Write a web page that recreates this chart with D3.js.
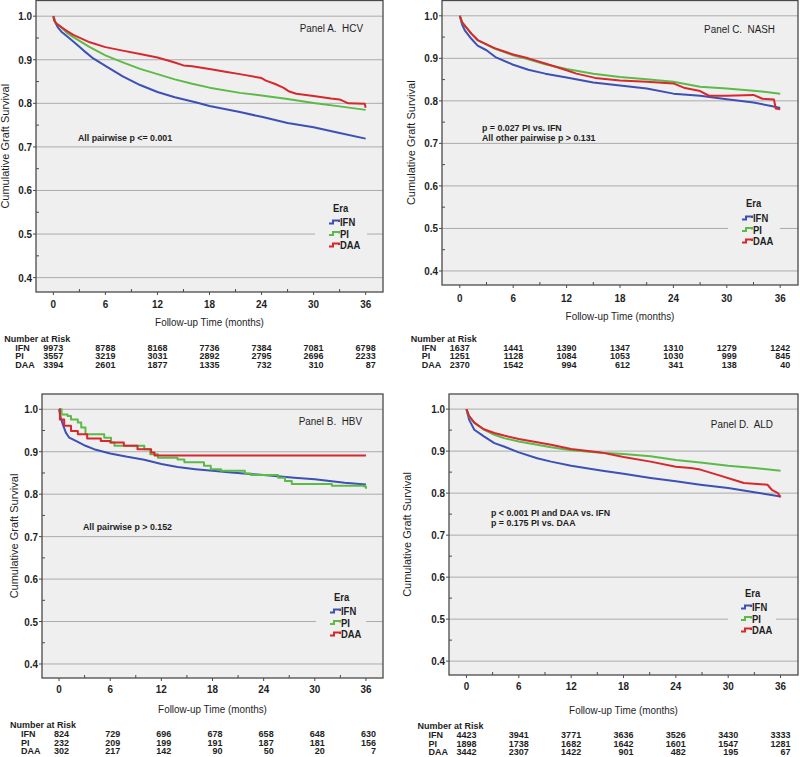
<!DOCTYPE html>
<meta charset="utf-8">
<style>
body { margin: 0; background: #fff; }
svg text { font-family: "Liberation Sans", Arial, sans-serif; fill: #1e1e1e; white-space: pre; }
</style>
<body>
<script src="https://cdn.jsdelivr.net/npm/d3@7/dist/d3.min.js"></script>
<script>

// ---- data ----
var eras = ["IFN", "PI", "DAA"];
var eraColors = ["#3d50b6", "#5cbb48", "#d8272d"];
var xTicks = [0, 6, 12, 18, 24, 30, 36];
var xMinor = [3, 9, 15, 21, 27, 33];
var yTicks = [0.4, 0.5, 0.6, 0.7, 0.8, 0.9, 1.0];

// Panel A. HCV  [month, survival]
var hcvIFN = [[0,1],[0.25,0.985],[0.5,0.975],[1,0.963],[1.5,0.955],[2.3,0.942],[3.5,0.921],[4.6,0.903],[6,0.886],[8,0.862],[10,0.842],[12,0.826],[14,0.814],[16.5,0.802],[18,0.794],[21.5,0.78],[24,0.769],[27,0.755],[30,0.745],[33,0.732],[36,0.719]];
var hcvPI = [[0,1],[0.25,0.985],[0.75,0.978],[1.5,0.963],[2.3,0.952],[4.2,0.929],[6,0.91],[8,0.894],[10,0.879],[12,0.867],[14,0.855],[16,0.845],[18,0.836],[21.5,0.824],[24,0.818],[27,0.81],[30,0.801],[33,0.793],[36,0.785]];
var hcvDAA = [[0,1],[0.1,0.99],[0.4,0.982],[1.5,0.967],[2.3,0.957],[4.2,0.94],[6,0.929],[8,0.921],[10,0.913],[12,0.905],[13.8,0.895],[15,0.887],[16,0.885],[18,0.879],[20,0.872],[21.5,0.867],[24,0.858],[24.5,0.852],[25.5,0.845],[26.5,0.836],[27.2,0.827],[28,0.822],[30,0.817],[32,0.811],[33,0.809],[34,0.8],[35.9,0.799],[36,0.79]];

// Panel B. HBV
var hbvIFN = [[0,1],[0.2,0.98],[0.5,0.961],[0.8,0.945],[1.2,0.933],[2.2,0.923],[3.1,0.914],[4.1,0.906],[6,0.896],[8,0.888],[10,0.881],[12,0.871],[13.9,0.864],[16,0.859],[18,0.855],[20.2,0.851],[24,0.845],[27.6,0.839],[30,0.835],[33.5,0.827],[36,0.823]];
var hbvPI = [[0,1],[0.3,0.988],[1,0.984],[1.4,0.976],[2.2,0.969],[2.6,0.957],[3.1,0.941],[5.3,0.933],[6.1,0.922],[6.5,0.914],[10,0.906],[10.7,0.894],[11.6,0.886],[13.9,0.882],[14.7,0.875],[17,0.867],[17.8,0.859],[19,0.855],[21.8,0.849],[22.5,0.845],[25.7,0.839],[26.5,0.831],[27.3,0.824],[32,0.82],[35.8,0.818],[36,0.813]];
var hbvDAA = [[0,1],[0.1,0.976],[0.6,0.961],[1.4,0.949],[2.2,0.941],[3.3,0.931],[4.9,0.925],[6,0.922],[7.6,0.914],[9.2,0.906],[10.8,0.898],[11.2,0.891],[36,0.891]];

// Panel C. NASH
var nashIFN = [[0,1],[0.25,0.98],[0.56,0.966],[1.3,0.946],[2,0.93],[3,0.919],[4,0.903],[6,0.885],[7.7,0.873],[9.6,0.864],[12,0.855],[15,0.843],[18,0.836],[21,0.829],[24,0.817],[27,0.812],[30,0.804],[33,0.796],[35,0.788],[36,0.783]];
var nashPI = [[0,1],[0.25,0.985],[0.56,0.977],[1.3,0.958],[2,0.943],[3.9,0.923],[6,0.907],[7.7,0.898],[9.6,0.886],[12,0.875],[15,0.864],[18,0.856],[21,0.851],[24,0.845],[27,0.833],[30,0.829],[33,0.824],[36,0.817]];
var nashDAA = [[0,1],[0.25,0.985],[0.56,0.977],[1.3,0.958],[2,0.943],[3.9,0.924],[6,0.909],[7.7,0.9],[9.6,0.888],[12,0.872],[13.1,0.864],[15.2,0.854],[18,0.848],[21,0.845],[24,0.841],[25.3,0.83],[27,0.823],[28,0.812],[30,0.812],[33,0.814],[34,0.805],[35.3,0.803],[35.5,0.782],[36,0.78]];

// Panel D. ALD
var aldIFN = [[0,1],[0.3,0.975],[0.9,0.951],[2,0.935],[3.2,0.919],[4.3,0.911],[6,0.897],[8.1,0.883],[9.7,0.875],[12,0.865],[15.4,0.854],[18,0.846],[21.1,0.836],[24,0.828],[26.8,0.82],[30,0.812],[33,0.802],[36,0.792]];
var aldPI = [[0,1],[0.3,0.983],[0.9,0.967],[2,0.951],[3.2,0.939],[4.3,0.931],[6,0.923],[8.1,0.915],[9.7,0.909],[12,0.902],[15.4,0.896],[18,0.893],[21.1,0.888],[24,0.879],[26.8,0.873],[30,0.865],[33,0.86],[36,0.853]];
var aldDAA = [[0,1],[0.3,0.984],[0.9,0.968],[2,0.952],[3.2,0.943],[4.3,0.937],[6,0.929],[8.1,0.921],[9.7,0.915],[12,0.905],[15.4,0.897],[18,0.886],[21.1,0.875],[24,0.863],[25.7,0.86],[26.8,0.856],[28.7,0.844],[30.6,0.832],[31.8,0.824],[34.5,0.82],[35,0.808],[35.7,0.8],[36,0.79]];

// numbers at risk (at 0, 6, ... 36 months)
var hcvRiskIFN = [9973, 8788, 8168, 7736, 7384, 7081, 6798];
var hcvRiskPI = [3557, 3219, 3031, 2892, 2795, 2696, 2233];
var hcvRiskDAA = [3394, 2601, 1877, 1335, 732, 310, 87];
var hbvRiskIFN = [824, 729, 696, 678, 658, 648, 630];
var hbvRiskPI = [232, 209, 199, 191, 187, 181, 156];
var hbvRiskDAA = [302, 217, 142, 90, 50, 20, 7];
var nashRiskIFN = [1637, 1441, 1390, 1347, 1310, 1279, 1242];
var nashRiskPI = [1251, 1128, 1084, 1053, 1030, 999, 845];
var nashRiskDAA = [2370, 1542, 994, 612, 341, 138, 40];
var aldRiskIFN = [4423, 3941, 3771, 3636, 3526, 3430, 3333];
var aldRiskPI = [1898, 1738, 1682, 1642, 1601, 1547, 1281];
var aldRiskDAA = [3442, 2307, 1422, 901, 482, 195, 67];

var panels = [
  {title: "Panel A.  HCV", note: ["All pairwise p <= 0.001"],
   curves: [hcvIFN, hcvPI, hcvDAA], steps: [false, false, false],
   risk: [hcvRiskIFN, hcvRiskPI, hcvRiskDAA]},
  {title: "Panel C.  NASH", note: ["p = 0.027 PI vs. IFN", "All other pairwise p > 0.131"],
   curves: [nashIFN, nashPI, nashDAA], steps: [false, false, false],
   risk: [nashRiskIFN, nashRiskPI, nashRiskDAA]},
  {title: "Panel B.  HBV", note: ["All pairwise p > 0.152"],
   curves: [hbvIFN, hbvPI, hbvDAA], steps: [false, true, true],
   risk: [hbvRiskIFN, hbvRiskPI, hbvRiskDAA]},
  {title: "Panel D.  ALD", note: ["p < 0.001 PI and DAA vs. IFN", "p = 0.175 PI vs. DAA"],
   curves: [aldIFN, aldPI, aldDAA], steps: [false, false, false],
   risk: [aldRiskIFN, aldRiskPI, aldRiskDAA]}
];

// ---- layout ----
var layout = [
  {box: [36, 0.5, 383, 292], tickY: 308, titleY: 326, yTitleX: 9, riskY: [342, 350.5, 359, 367.5],
   label: [363, 32], note: [78, 141], legend: [329, 212, [226, 237.5, 249]], legendBg: [315, 199, 52, 56]},
  {box: [442, 0.5, 798, 285], tickY: 302, titleY: 320, yTitleX: 415, riskY: [342, 350.5, 359, 367.5],
   label: [775, 33], note: [482, 130.5], legend: [742, 207, [222, 233.5, 245]], legendBg: [728, 195, 52, 56]},
  {box: [42, 394, 383, 678], tickY: 693, titleY: 713, yTitleX: 18, riskY: [728, 737, 745.5, 754],
   label: [362, 425], note: [83, 530], legend: [330, 601, [615, 626.5, 638]], legendBg: [316, 589, 50, 55]},
  {box: [449, 394, 798, 675], tickY: 690, titleY: 714, yTitleX: 411, riskY: [729, 738, 746.5, 755],
   label: [773, 428], note: [491, 515.5], legend: [741, 597, [611, 622.5, 634]], legendBg: [728, 585, 48, 55]}
];

var plotBg = "#efefef", gridColor = "#ababab", frameColor = "#4a4a4a";

var svg = d3.select("body").append("svg")
    .attr("width", 800)
    .attr("height", 757);

// horizontal text in the figure is slightly condensed
function txt(g, x, y, s, size, weight, anchor, sx) {
  return g.append("text")
      .attr("transform", "translate(" + x + "," + y + ") scale(" + (sx || 0.9) + ",1)")
      .attr("font-size", size)
      .attr("font-weight", weight || "normal")
      .attr("text-anchor", anchor || "start")
      .text(s);
}

panels.forEach(function(p, i) {
  var L = layout[i],
      l = L.box[0], t = L.box[1], r = L.box[2], b = L.box[3];
  var g = svg.append("g");

  var x = d3.scaleLinear().domain([-2, 38]).range([l, r]);
  var y = d3.scaleLinear().domain([0.367, 1.036]).range([b, t]);

  g.append("rect")
      .attr("x", l).attr("y", t)
      .attr("width", r - l).attr("height", b - t)
      .attr("fill", plotBg);

  // grid lines
  g.selectAll(".grid").data(yTicks).enter().append("line")
      .attr("x1", l).attr("x2", r)
      .attr("y1", function(d) { return y(d); })
      .attr("y2", function(d) { return y(d); })
      .attr("stroke", gridColor).attr("stroke-width", 1);

  // legend patch hides the grid line behind it
  g.append("rect")
      .attr("x", L.legendBg[0]).attr("y", L.legendBg[1])
      .attr("width", L.legendBg[2]).attr("height", L.legendBg[3])
      .attr("fill", plotBg);

  // minor ticks (inside)
  var yMinor = d3.range(0.4, 1.0, 0.05).filter(function(d, k) { return k % 2 === 1; });
  g.selectAll(".ym").data(yMinor).enter().append("line")
      .attr("x1", l).attr("x2", l + 3)
      .attr("y1", function(d) { return y(d); }).attr("y2", function(d) { return y(d); })
      .attr("stroke", frameColor);
  g.selectAll(".xm").data(xMinor).enter().append("line")
      .attr("x1", function(d) { return x(d); }).attr("x2", function(d) { return x(d); })
      .attr("y1", b).attr("y2", b - 3)
      .attr("stroke", frameColor);

  // major ticks (outside)
  g.selectAll(".yt").data(yTicks).enter().append("line")
      .attr("x1", l - 3).attr("x2", l)
      .attr("y1", function(d) { return y(d); }).attr("y2", function(d) { return y(d); })
      .attr("stroke", frameColor);
  g.selectAll(".xt").data(xTicks).enter().append("line")
      .attr("x1", function(d) { return x(d); }).attr("x2", function(d) { return x(d); })
      .attr("y1", b).attr("y2", b + 3)
      .attr("stroke", frameColor);

  yTicks.forEach(function(d) {
    txt(g, l - 4, y(d) + 4, d3.format(".1f")(d), 11, "bold", "end");
  });
  xTicks.forEach(function(d) {
    txt(g, x(d), L.tickY, d, 11, "bold", "middle");
  });

  // curves
  p.curves.forEach(function(c, k) {
    var line = d3.line()
        .x(function(d) { return x(d[0]); })
        .y(function(d) { return y(d[1]); })
        .curve(p.steps[k] ? d3.curveStepAfter : d3.curveLinear);
    g.append("path")
        .attr("d", line(c))
        .attr("fill", "none")
        .attr("stroke", eraColors[k])
        .attr("stroke-width", 2)
        .attr("stroke-linejoin", "round");
  });

  // frame
  g.append("rect")
      .attr("x", l).attr("y", t)
      .attr("width", r - l).attr("height", b - t)
      .attr("fill", "none")
      .attr("stroke", frameColor).attr("stroke-width", 1.3);

  // texts
  txt(g, L.label[0], L.label[1], p.title, 11, "normal", "end");
  p.note.forEach(function(s, k) {
    txt(g, L.note[0], L.note[1] + k * 10.5, s, 9.5, "bold", "start", 0.93);
  });

  // legend
  var lx = L.legend[0];
  txt(g, lx + 4, L.legend[1], "Era", 10.5, "bold");
  eras.forEach(function(e, k) {
    var ly = L.legend[2][k] - 4;
    g.append("path")
        .attr("d", "M" + lx + "," + (ly + 1.5) + "h4v-3h6v1.5")
        .attr("fill", "none")
        .attr("stroke", eraColors[k])
        .attr("stroke-width", 2);
    txt(g, lx + 11, L.legend[2][k], e, 10.5, "bold");
  });

  // axis titles
  txt(g, (x(0) + x(36)) / 2, L.titleY, "Follow-up Time (months)", 11, "normal", "middle");
  g.append("text")
      .attr("transform", "translate(" + L.yTitleX + "," + ((t + b) / 2) + ") rotate(-90)")
      .attr("font-size", 11)
      .attr("text-anchor", "middle")
      .text("Cumulative Graft Survival");

  // number at risk table
  txt(g, x(0) - 49, L.riskY[0], "Number at Risk", 9, "bold", "start", 1);
  eras.forEach(function(e, k) {
    txt(g, x(0) - 38, L.riskY[k + 1], e, 9, "bold", "start", 1);
    p.risk[k].forEach(function(n, j) {
      txt(g, x(xTicks[j]) + 10, L.riskY[k + 1], n, 9, "bold", "end", 1);
    });
  });
});

</script>
